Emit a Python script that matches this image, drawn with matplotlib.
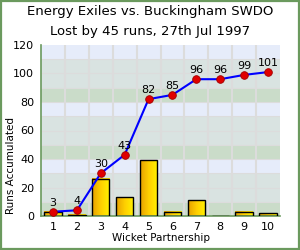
import matplotlib
matplotlib.use('Agg')
import matplotlib.pyplot as plt
import numpy as np
from matplotlib.colors import LinearSegmentedColormap
from matplotlib.patches import Rectangle

partnerships = [1, 2, 3, 4, 5, 6, 7, 8, 9, 10]
runs = [3, 1, 26, 13, 39, 3, 11, 0, 3, 2]
accumulated = [3, 4, 30, 43, 82, 85, 96, 96, 99, 101]
yticks = [0, 20, 40, 60, 80, 100, 120]

fig = plt.figure(figsize=(3, 2.5), dpi=100)
fig.patch.set_facecolor('white')
fig.add_artist(Rectangle((0.003, 0.004), 0.994, 0.992, transform=fig.transFigure,
                         fill=False, edgecolor='#6b9a5e', linewidth=1.6))

ax = fig.add_axes([0.137, 0.136, 0.796, 0.684])
ax.set_xlim(0.5, 10.5)
ax.set_ylim(0, 120)

# background bands
band_cols = ['#cadcc9', '#d9e3e1', '#d9e3e1', '#e6ecfa']
for i in range(12):
    ax.axhspan(i * 10, i * 10 + 10, color=band_cols[i % 4], zorder=0, lw=0)
for y in range(10, 120, 10):
    ax.axhline(y, color='#dcdcdc', lw=0.8, zorder=0.5)
for x in np.arange(1.5, 10.5, 1):
    ax.axvline(x, color='#dcdcdc', lw=1.5, zorder=0.5)

# gradient bars
cmap = LinearSegmentedColormap.from_list('gold', ['#e6a000', '#ffd000', '#fff200'])
grad = np.linspace(0, 1, 64).reshape(1, -1)
w = 0.72
for x, h in zip(partnerships, runs):
    if h <= 0:
        continue
    ax.imshow(grad, cmap=cmap, aspect='auto', extent=[x - w / 2, x + w / 2, 0, h],
              zorder=2, interpolation='bilinear')
ax.bar(partnerships, runs, width=w, fill=False, edgecolor='black', linewidth=1.0, zorder=3)

ax.plot(partnerships, accumulated, color='#0000ff', lw=1.5, zorder=4)
ax.plot(partnerships, accumulated, 'o', color='#e00000', mec='#a00000', mew=0.6,
        ms=5.5, zorder=5)
for x, v in zip(partnerships, accumulated):
    ax.annotate(str(v), (x, v), textcoords='offset points', xytext=(0, 3),
                ha='center', va='bottom', fontsize=8, zorder=6)

ax.set_xlim(0.5, 10.5)
ax.set_ylim(0, 120)
ax.set_xticks(partnerships)
ax.set_yticks(yticks)
ax.tick_params(axis='x', length=0, labelsize=8, pad=4)
ax.tick_params(axis='y', length=0, labelsize=8, pad=5)
for s in ['top', 'right']:
    ax.spines[s].set_visible(False)
for s in ['left', 'bottom']:
    ax.spines[s].set_color('#6b9a5e')
    ax.spines[s].set_linewidth(1.2)

ax.set_xlabel('Wicket Partnership', fontsize=7.5, labelpad=1)
fig.text(0.035, 0.336, 'Runs Accumulated', rotation=90, ha='center', va='center', fontsize=7.5)

fig.text(0.5, 0.952, 'Energy Exiles vs. Buckingham SWDO', ha='center', va='center', fontsize=9.5)
fig.text(0.5, 0.876, 'Lost by 45 runs, 27th Jul 1997', ha='center', va='center', fontsize=9.5)

fig.savefig('out.png', dpi=100)
